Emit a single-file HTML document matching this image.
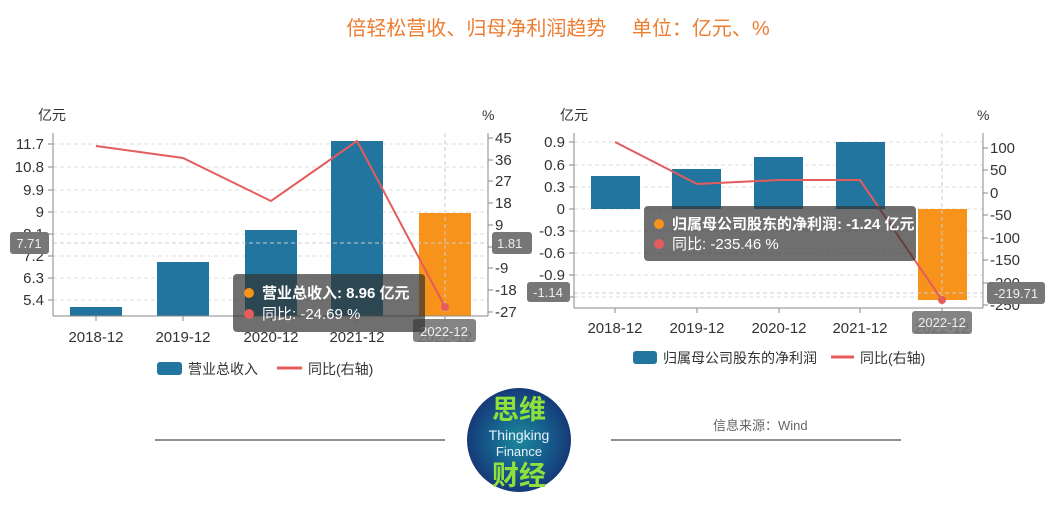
<!DOCTYPE html>
<html><head><meta charset="utf-8"><style>
body{margin:0;background:#fff;}
svg text{font-family:"Liberation Sans","Noto Sans CJK SC",sans-serif;}
</style></head><body>
<svg width="1045" height="504" xmlns="http://www.w3.org/2000/svg">
<rect width="1045" height="504" fill="#fff"/>
<text x="558" y="35" font-size="20" fill="#ec7d31" text-anchor="middle">倍轻松营收、归母净利润趋势　 单位：亿元、%</text>

<!-- LEFT CHART -->
<g font-size="15" fill="#333">
<text x="38" y="120" font-size="14">亿元</text>
<text x="482" y="120" font-size="14">%</text>
<g stroke="#ddd" stroke-dasharray="4,3">
<line x1="53" x2="488" y1="144" y2="144"/><line x1="53" x2="488" y1="167" y2="167"/>
<line x1="53" x2="488" y1="190" y2="190"/><line x1="53" x2="488" y1="212" y2="212"/>
<line x1="53" x2="488" y1="234" y2="234"/><line x1="53" x2="488" y1="256" y2="256"/>
<line x1="53" x2="488" y1="278" y2="278"/><line x1="53" x2="488" y1="300" y2="300"/>
</g>
<g fill="#21759f">
<rect x="70" y="307" width="52" height="9"/>
<rect x="157" y="262" width="52" height="54"/>
<rect x="245" y="230" width="52" height="86"/>
<rect x="331" y="141" width="52" height="175"/>
</g>
<rect x="419" y="213" width="52" height="103" fill="#f7931a"/>
<line x1="445" x2="445" y1="133" y2="316" stroke="#ccc" stroke-dasharray="4,3"/>
<line x1="53" x2="488" y1="243" y2="243" stroke="#ccc" stroke-dasharray="4,3"/>
<polyline points="96,146 183,158 271,201 357,141 445,307" fill="none" stroke="#e45c5c" stroke-width="2"/>
<circle cx="445" cy="307" r="4" fill="#e45c5c"/>
<line x1="53" x2="53" y1="133" y2="316" stroke="#888"/>
<line x1="53" x2="488" y1="316" y2="316" stroke="#888"/>
<line x1="488" x2="488" y1="133" y2="316" stroke="#888"/>
<g stroke="#888">
<line x1="48" x2="53" y1="144" y2="144"/><line x1="48" x2="53" y1="167" y2="167"/><line x1="48" x2="53" y1="190" y2="190"/><line x1="48" x2="53" y1="212" y2="212"/><line x1="48" x2="53" y1="234" y2="234"/><line x1="48" x2="53" y1="256" y2="256"/><line x1="48" x2="53" y1="278" y2="278"/><line x1="48" x2="53" y1="300" y2="300"/>
<line x1="488" x2="493" y1="138" y2="138"/><line x1="488" x2="493" y1="160" y2="160"/><line x1="488" x2="493" y1="181" y2="181"/><line x1="488" x2="493" y1="203" y2="203"/><line x1="488" x2="493" y1="225" y2="225"/><line x1="488" x2="493" y1="247" y2="247"/><line x1="488" x2="493" y1="268" y2="268"/><line x1="488" x2="493" y1="290" y2="290"/><line x1="488" x2="493" y1="312" y2="312"/>
<line x1="96" x2="96" y1="316" y2="321"/><line x1="183" x2="183" y1="316" y2="321"/><line x1="271" x2="271" y1="316" y2="321"/><line x1="357" x2="357" y1="316" y2="321"/><line x1="445" x2="445" y1="316" y2="321"/>
</g>
<g text-anchor="end">
<text x="44" y="149">11.7</text><text x="44" y="172">10.8</text><text x="44" y="195">9.9</text><text x="44" y="217">9</text><text x="44" y="239">8.1</text><text x="44" y="261">7.2</text><text x="44" y="283">6.3</text><text x="44" y="305">5.4</text>
</g>
<g>
<text x="495" y="143">45</text><text x="495" y="165">36</text><text x="495" y="186">27</text><text x="495" y="208">18</text><text x="495" y="230">9</text><text x="495" y="252">0</text><text x="495" y="273">-9</text><text x="495" y="295">-18</text><text x="495" y="317">-27</text>
</g>
<g text-anchor="middle">
<text x="96" y="342">2018-12</text><text x="183" y="342">2019-12</text><text x="271" y="342">2020-12</text><text x="357" y="342">2021-12</text><text x="445" y="342">2022-12</text>
</g>
<rect x="10" y="232" width="39" height="22" rx="3" fill="#777"/>
<text x="29" y="248" fill="#eee" text-anchor="middle" font-size="13">7.71</text>
<rect x="492" y="232" width="40" height="22" rx="3" fill="#777"/>
<text x="497" y="248" fill="#eee" font-size="13">1.81</text>
<rect x="413" y="319" width="63" height="23" rx="3" fill="#777" opacity="0.9"/>
<text x="444" y="336" fill="#eee" text-anchor="middle" font-size="13">2022-12</text>
<rect x="233" y="274" width="192" height="58" rx="4" fill="rgba(50,50,50,0.7)"/>
<circle cx="249" cy="293" r="5" fill="#f7931a"/>
<text x="262" y="298" fill="#fff" font-weight="bold" font-size="15">营业总收入: 8.96  亿元</text>
<circle cx="249" cy="314" r="5" fill="#e45c5c"/>
<text x="262" y="319" fill="#fff" font-size="15">同比: -24.69  %</text>
<rect x="157" y="362" width="25" height="13" rx="3" fill="#21759f"/>
<text x="188" y="374" font-size="14">营业总收入</text>
<line x1="277" x2="302" y1="368" y2="368" stroke="#e45c5c" stroke-width="3"/>
<text x="308" y="374" font-size="14">同比(右轴)</text>
</g>

<!-- RIGHT CHART -->
<g font-size="15" fill="#333">
<text x="560" y="120" font-size="14">亿元</text>
<text x="977" y="120" font-size="14">%</text>
<g stroke="#ddd" stroke-dasharray="4,3">
<line x1="574" x2="983" y1="142" y2="142"/><line x1="574" x2="983" y1="165" y2="165"/><line x1="574" x2="983" y1="187" y2="187"/><line x1="574" x2="983" y1="209" y2="209"/><line x1="574" x2="983" y1="231" y2="231"/><line x1="574" x2="983" y1="253" y2="253"/><line x1="574" x2="983" y1="275" y2="275"/><line x1="574" x2="983" y1="297" y2="297"/>
</g>
<g fill="#21759f">
<rect x="591" y="176" width="49" height="33"/>
<rect x="672" y="169" width="49" height="40"/>
<rect x="754" y="157" width="49" height="52"/>
<rect x="836" y="142" width="49" height="67"/>
</g>
<rect x="918" y="209" width="49" height="91" fill="#f7931a"/>
<line x1="942" x2="942" y1="133" y2="308" stroke="#ccc" stroke-dasharray="4,3"/>
<line x1="574" x2="983" y1="293" y2="293" stroke="#ccc" stroke-dasharray="4,3"/>
<polyline points="615,142 697,184 779,180 860,180 942,300" fill="none" stroke="#e45c5c" stroke-width="2"/>
<circle cx="942" cy="300" r="4" fill="#e45c5c"/>
<line x1="574" x2="574" y1="133" y2="308" stroke="#888"/>
<line x1="574" x2="983" y1="308" y2="308" stroke="#888"/>
<line x1="983" x2="983" y1="133" y2="308" stroke="#888"/>
<g stroke="#888">
<line x1="569" x2="574" y1="142" y2="142"/><line x1="569" x2="574" y1="165" y2="165"/><line x1="569" x2="574" y1="187" y2="187"/><line x1="569" x2="574" y1="209" y2="209"/><line x1="569" x2="574" y1="231" y2="231"/><line x1="569" x2="574" y1="253" y2="253"/><line x1="569" x2="574" y1="275" y2="275"/><line x1="569" x2="574" y1="297" y2="297"/>
<line x1="983" x2="988" y1="148" y2="148"/><line x1="983" x2="988" y1="170" y2="170"/><line x1="983" x2="988" y1="193" y2="193"/><line x1="983" x2="988" y1="215" y2="215"/><line x1="983" x2="988" y1="238" y2="238"/><line x1="983" x2="988" y1="260" y2="260"/><line x1="983" x2="988" y1="283" y2="283"/><line x1="983" x2="988" y1="305" y2="305"/>
<line x1="615" x2="615" y1="308" y2="313"/><line x1="697" x2="697" y1="308" y2="313"/><line x1="779" x2="779" y1="308" y2="313"/><line x1="860" x2="860" y1="308" y2="313"/><line x1="942" x2="942" y1="308" y2="313"/>
</g>
<g text-anchor="end">
<text x="565" y="147">0.9</text><text x="565" y="170">0.6</text><text x="565" y="192">0.3</text><text x="565" y="214">0</text><text x="565" y="236">-0.3</text><text x="565" y="258">-0.6</text><text x="565" y="280">-0.9</text><text x="565" y="302">-1.2</text>
</g>
<g>
<text x="990" y="153">100</text><text x="990" y="175">50</text><text x="990" y="198">0</text><text x="990" y="220">-50</text><text x="990" y="243">-100</text><text x="990" y="265">-150</text><text x="990" y="288">-200</text><text x="990" y="310">-250</text>
</g>
<g text-anchor="middle">
<text x="615" y="333">2018-12</text><text x="697" y="333">2019-12</text><text x="779" y="333">2020-12</text><text x="860" y="333">2021-12</text><text x="942" y="333">2022-12</text>
</g>
<rect x="527" y="282" width="43" height="20" rx="3" fill="#777"/>
<text x="548" y="297" fill="#eee" text-anchor="middle" font-size="13">-1.14</text>
<rect x="987" y="282" width="58" height="22" rx="3" fill="#777"/>
<text x="1016" y="298" fill="#eee" text-anchor="middle" font-size="13">-219.71</text>
<rect x="912" y="311" width="60" height="23" rx="3" fill="#777" opacity="0.9"/>
<text x="942" y="327" fill="#eee" text-anchor="middle" font-size="13">2022-12</text>
<rect x="644" y="206" width="272" height="55" rx="4" fill="rgba(50,50,50,0.7)"/>
<circle cx="659" cy="224" r="5" fill="#f7931a"/>
<text x="672" y="229" fill="#fff" font-weight="bold" font-size="15">归属母公司股东的净利润: -1.24  亿元</text>
<circle cx="659" cy="244" r="5" fill="#e45c5c"/>
<text x="672" y="249" fill="#fff" font-size="15">同比: -235.46  %</text>
<rect x="633" y="351" width="24" height="13" rx="3" fill="#21759f"/>
<text x="663" y="363" font-size="14">归属母公司股东的净利润</text>
<line x1="831" x2="854" y1="357" y2="357" stroke="#e45c5c" stroke-width="3"/>
<text x="860" y="363" font-size="14">同比(右轴)</text>
</g>

<!-- FOOTER -->
<line x1="155" x2="445" y1="440" y2="440" stroke="#222"/>
<line x1="611" x2="901" y1="440" y2="440" stroke="#222"/>
<text x="713" y="430" font-size="13" fill="#666">信息来源：Wind</text>
<defs><radialGradient id="g" cx="50%" cy="50%" r="50%"><stop offset="0" stop-color="#1d8a9a"/><stop offset="0.6" stop-color="#155a8a"/><stop offset="1" stop-color="#163a78"/></radialGradient></defs>
<circle cx="519" cy="440" r="52" fill="url(#g)"/>
<text x="519" y="419" font-size="27" fill="#8fe03a" text-anchor="middle" font-weight="bold">思维</text>
<text x="519" y="440" font-size="14" fill="#e8f0ff" text-anchor="middle">Thingking</text>
<text x="519" y="456" font-size="13" fill="#e8f0ff" text-anchor="middle">Finance</text>
<text x="519" y="485" font-size="27" fill="#8fe03a" text-anchor="middle" font-weight="bold">财经</text>
</svg>
</body></html>
